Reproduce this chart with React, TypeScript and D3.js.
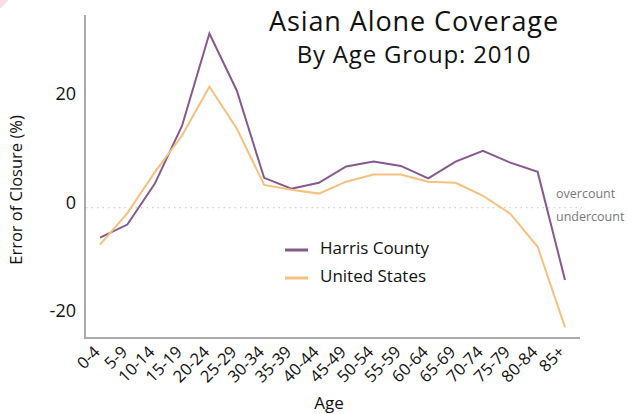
import React from "react";
import * as d3 from "d3";

const ageGroups = ["0-4","5-9","10-14","15-19","20-24","25-29","30-34","35-39","40-44","45-49","50-54","55-59","60-64","65-69","70-74","75-79","80-84","85+"];
const harrisCounty = [-5.5,-3.1,4.4,15.1,32.1,21.6,5.5,3.5,4.6,7.6,8.5,7.7,5.4,8.5,10.5,8.3,6.6,-13.3];
const unitedStates = [-6.8,-1.0,6.5,13.3,22.3,14.6,4.2,3.3,2.6,4.8,6.1,6.1,4.8,4.6,2.2,-1.1,-7.2,-22.0];
const yTicks = [-20, 0, 20];
const seriesNames = ["Harris County", "United States"];

const W = 637, H = 414;
const PURPLE = "#85588e";
const ORANGE = "#f6c07f";
const FONT = "'Open Sans', Lato, sans-serif";

export default function App() {
  const x = d3.scalePoint<string>().domain(ageGroups).range([100, 565]);
  const y = d3.scaleLinear().domain([-24, 35.5]).range([338, 15]);
  const line = d3.line<number>().x((_, i) => x(ageGroups[i])!).y((d) => y(d));
  const series = [
    { name: seriesNames[0], values: harrisCounty, color: PURPLE },
    { name: seriesNames[1], values: unitedStates, color: ORANGE },
  ];
  return (
    <svg width={W} height={H} style={{ position: "absolute", left: 0, top: 0, background: "#fff" }} fontFamily={FONT}>
      <circle cx={-50} cy={-50} r={77} fill="#f8dbe6" />
      {/* zero line */}
      <line x1={86} x2={582} y1={y(0)} y2={y(0)} stroke="#c4c4c4" strokeWidth={1} strokeDasharray="1.5,4" />
      {/* axes */}
      <line x1={85} x2={85} y1={15} y2={339} stroke="#aaaaaa" strokeWidth={2} />
      <line x1={84} x2={580} y1={338} y2={338} stroke="#aaaaaa" strokeWidth={2} />
      {yTicks.map((t) => (
        <text key={t} x={76} y={y(t) - 4} textAnchor="end" dominantBaseline="middle" fontSize={18} fill="#111">
          {t}
        </text>
      ))}
      {ageGroups.map((g) => (
        <text
          key={g}
          transform={`translate(${x(g)! + 1},${353}) rotate(-45)`}
          textAnchor="end"
          fontSize={16.5}
          fill="#111"
        >
          {g}
        </text>
      ))}
      {series.map((s) => (
        <path key={s.name} d={line(s.values)!} fill="none" stroke={s.color} strokeWidth={2} strokeLinejoin="miter" />
      ))}
      {/* legend */}
      {series.map((s, i) => (
        <g key={s.name} transform={`translate(285,${250 + i * 28})`}>
          <line x1={0} x2={23} y1={0} y2={0} stroke={s.color} strokeWidth={3} />
          <text x={35} y={-1} dominantBaseline="middle" fontSize={17} fill="#111">{s.name}</text>
        </g>
      ))}
      <text x={556} y={195} dominantBaseline="middle" fontSize={12.5} fill="#777">overcount</text>
      <text x={556} y={218} dominantBaseline="middle" fontSize={12.5} fill="#777">undercount</text>
      {/* titles */}
      <text x={414} y={31} textAnchor="middle" fontSize={27} letterSpacing={0.9} fill="#111">Asian Alone Coverage</text>
      <text x={414} y={63} textAnchor="middle" fontSize={24} letterSpacing={0.8} fill="#111">By Age Group: 2010</text>
      <text transform={`translate(22,190) rotate(-90)`} textAnchor="middle" fontSize={16.5} fill="#111">Error of Closure (%)</text>
      <text x={329} y={409} textAnchor="middle" fontSize={17} fill="#111">Age</text>
    </svg>
  );
}
